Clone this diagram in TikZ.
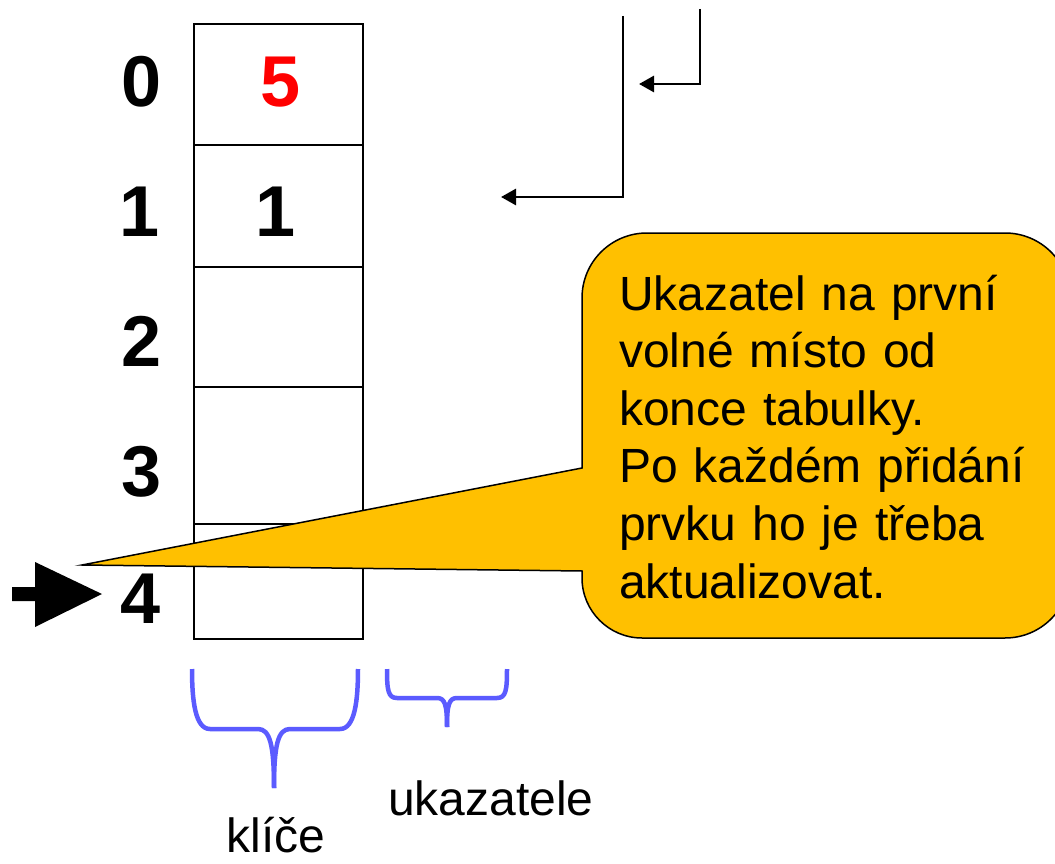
\documentclass[tikz,border=0pt]{standalone}
\usepackage{fontspec}
\setmainfont{Liberation Sans}
\usetikzlibrary{arrows.meta}
\definecolor{gold}{HTML}{FFC000}
\definecolor{braceblue}{HTML}{5B5BFF}
\begin{document}
\begin{tikzpicture}[x=1pt,y=-1pt,
  cell/.style={draw, line width=2.7pt, minimum width=169pt, inner sep=0pt, outer sep=0pt, anchor=north west},
  idx/.style={font=\fontsize{72}{86}\selectfont\bfseries, inner sep=0pt},
  ptr/.style={line width=2.8pt, -{Triangle[length=15pt,width=16pt]}},
  brace/.style={draw=braceblue, line width=4.5pt, line join=round},
  lbl/.style={font=\fontsize{48}{57.6}\selectfont, inner sep=0pt}]
\useasboundingbox (0,0) rectangle (1055,864);
\fill[white] (0,0) rectangle (1055,864);

% table
\node[cell, minimum height=121pt] (c0) at (194,24) {};
\node[cell, minimum height=122pt] (c1) at (194,145) {};
\node[cell, minimum height=120pt] (c2) at (194,267) {};
\node[cell, minimum height=137pt] (c3) at (194,387) {};
\node[cell, minimum height=115pt] (c4) at (194,524) {};

\node[idx, text=red] (v0) at (281,82) {5};
\node[idx] (v1) at (276,212) {1};

\node[idx] (i0) at (142,82) {0};
\node[idx] (i1) at (140,212) {1};
\node[idx] (i2) at (142,341) {2};
\node[idx] (i3) at (142,472) {3};
\node[idx] (i4) at (141,599) {4};

% left black arrow
\fill (12,587) -- (35,587) -- (35,562) -- (102,594) -- (35,627) -- (35,601) -- (12,601) -- cycle;

% top pointer arrows
\coordinate (a1s) at (623,16);
\coordinate (a1c) at (623,197);
\coordinate (a1e) at (501,197);
\draw[ptr] (a1s) -- (a1c) -- (a1e);
\coordinate (a2s) at (700,9);
\coordinate (a2c) at (700,84);
\coordinate (a2e) at (639,84);
\draw[ptr] (a2s) -- (a2c) -- (a2e);

% callout
\filldraw[fill=gold, draw=black, line width=1.5pt]
  (82,565) -- (582,468) -- (582,298)
  .. controls (582,262) and (611,233) .. (647,233) -- (1005,233)
  .. controls (1041,233) and (1070,262) .. (1070,298) -- (1070,573)
  .. controls (1070,609) and (1041,638) .. (1005,638) -- (642,638)
  .. controls (609,638) and (582,611) .. (582,578) -- (582,571) -- cycle;
\node[lbl, text width=430pt, align=left, anchor=base west] (note) at (619,310)
  {Ukazatel na první\\volné místo od\\konce tabulky.\\Po každém přidání\\prvku ho je třeba\\aktualizovat.};

% braces
\draw[brace] (192,669) .. controls (192,700) and (195,729) .. (210,729) -- (258,729)
  .. controls (270,729) and (274,745) .. (274,788);
\draw[brace] (358,669) .. controls (358,700) and (355,729) .. (340,729) -- (290,729)
  .. controls (278,729) and (274,745) .. (274,788);
\draw[brace] (387,669) .. controls (387,690) and (388,698) .. (397,698) -- (437,698)
  .. controls (445,698) and (447,705) .. (447,727);
\draw[brace] (507,669) .. controls (507,690) and (506,698) .. (497,698) -- (457,698)
  .. controls (449,698) and (447,705) .. (447,727);

\node[lbl, anchor=base west] (uk) at (388,815) {ukazatele};
\node[lbl, anchor=base] (kl) at (276,852) {klíče};
\end{tikzpicture}
\end{document}
